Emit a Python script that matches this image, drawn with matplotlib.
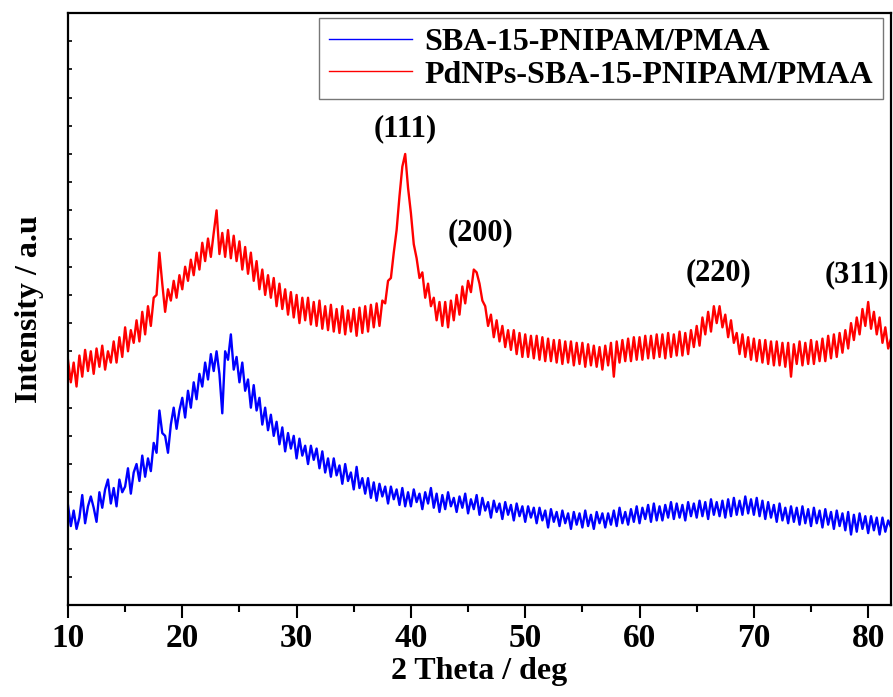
import numpy as np
import matplotlib.pyplot as plt
from matplotlib.ticker import MultipleLocator, NullFormatter

plt.rcParams['font.family'] = ['Liberation Serif', 'DejaVu Serif']
plt.rcParams['font.weight'] = 'bold'

# 2-theta scan, 0.25 deg step from 10 to 82
two_theta = np.arange(10, 82.001, 0.25)

# SBA-15-PNIPAM/PMAA (a.u.), four readings per degree
sba = [
    355, 280, 335, 270,  310, 390, 290, 350,  385, 345, 295, 400,  345, 410, 445, 360,   # 10-13
    415, 350, 445, 400,  420, 485, 395, 470,  500, 440, 530, 455,  520, 475, 575, 540,   # 14-17
    690, 610, 600, 540,  640, 700, 625, 690,  735, 665, 760, 700,  790, 730, 820, 775,   # 18-21
    860, 800, 890, 830,  900, 820, 680, 900,  870, 960, 835, 880,  790, 860, 760, 800,   # 22-25
    700, 780, 690, 735,  640, 700, 620, 675,  600, 650, 570, 630,  545, 610, 555, 600,   # 26-29
    520, 590, 530, 565,  500, 565, 515, 555,  485, 545, 470, 520,  455, 520, 460, 495,   # 30-33
    430, 500, 440, 470,  410, 490, 415, 450,  395, 450, 380, 435,  370, 430, 385, 420,   # 34-37
    360, 420, 375, 410,  355, 415, 350, 400,  350, 410, 365, 395,  340, 400, 360, 415,   # 38-41
    345, 395, 330, 390,  340, 400, 350, 380,  330, 385, 345, 395,  325, 375, 340, 390,   # 42-45
    320, 380, 335, 365,  310, 370, 330, 360,  305, 365, 320, 355,  300, 360, 315, 350,   # 46-49
    295, 350, 310, 345,  290, 345, 300, 335,  275, 340, 295, 330,  280, 335, 290, 325,   # 50-53
    270, 330, 285, 325,  275, 335, 280, 320,  270, 330, 290, 325,  275, 325, 285, 335,   # 54-57
    280, 345, 290, 330,  285, 340, 295, 350,  290, 345, 305, 355,  295, 360, 300, 350,   # 58-61
    300, 355, 310, 365,  305, 360, 310, 355,  300, 365, 315, 360,  310, 370, 315, 365,   # 62-65
    305, 375, 320, 365,  315, 370, 310, 375,  315, 380, 320, 370,  320, 385, 325, 375,   # 66-69
    320, 380, 315, 370,  305, 365, 310, 355,  295, 360, 300, 345,  290, 350, 295, 345,   # 70-73
    285, 350, 290, 340,  280, 345, 290, 335,  275, 340, 285, 330,  270, 335, 280, 325,   # 74-77
    265, 330, 250, 320,  260, 325, 270, 315,  255, 315, 265, 310,  250, 310, 260, 300,   # 78-81
    275,
]

# PdNPs-SBA-15-PNIPAM/PMAA (a.u.)
pd_sba = [
    870, 790, 860, 775,  885, 810, 905, 830,  900, 820, 910, 845,  920, 835, 900, 860,   # 10-13
    935, 860, 950, 880,  985, 900, 975, 930,  1010, 935, 1040, 960,  1060, 990, 1090, 1100,   # 14-17
    1250, 1140, 1040, 1120,  1080, 1150, 1090, 1170,  1120, 1200, 1150, 1225,  1170, 1250, 1190, 1285,   # 18-21
    1220, 1300, 1235, 1320,  1400, 1245, 1320, 1235,  1330, 1230, 1310, 1220,  1290, 1190, 1270, 1175,   # 22-25
    1250, 1150, 1220, 1120,  1190, 1100, 1170, 1090,  1160, 1060, 1140, 1050,  1120, 1030, 1110, 1020,   # 26-29
    1100, 1000, 1090, 1010,  1090, 995, 1075, 990,  1080, 980, 1060, 975,  1065, 970, 1050, 965,   # 30-33
    1060, 960, 1045, 970,  1050, 955, 1055, 965,  1060, 970, 1065, 985,  1070, 990, 1080, 1070,   # 34-37
    1150, 1160, 1250, 1330,  1450, 1555, 1600, 1480,  1390, 1280, 1230, 1160,  1180, 1090, 1140, 1060,   # 38-41
    1090, 1010, 1075, 990,  1075, 985, 1080, 1010,  1100, 1030, 1130, 1070,  1150, 1110, 1190, 1180,   # 42-45
    1140, 1080, 1060, 990,  1030, 950, 1010, 935,  990, 915, 975, 905,  975, 890, 965, 880,   # 46-49
    960, 880, 955, 875,  955, 870, 950, 865,  945, 865, 940, 860,  940, 855, 935, 860,   # 50-53
    935, 850, 930, 855,  930, 845, 925, 850,  920, 845, 915, 835,  920, 850, 930, 810,   # 54-57
    935, 860, 940, 865,  945, 865, 950, 870,  950, 870, 955, 875,  955, 875, 960, 880,   # 58-61
    960, 875, 965, 880,  960, 885, 970, 885,  965, 890, 975, 915,  990, 920, 1020, 960,   # 62-65
    1040, 970, 1060, 1000,  1060, 985, 1030, 950,  1010, 930, 965, 890,  960, 880, 950, 870,   # 66-69
    945, 865, 940, 860,  940, 855, 935, 850,  935, 850, 930, 845,  930, 810, 925, 855,   # 70-73
    935, 850, 930, 855,  940, 855, 935, 865,  945, 865, 955, 875,  960, 880, 965, 895,   # 74-77
    975, 910, 1000, 940,  1020, 960, 1050, 990,  1075, 980, 1040, 960,  1020, 930, 985, 910,   # 78-81
    945,
]

# Pd fcc reflections: label, position (deg), label height (a.u.)
peak_labels = ['(111)', '(200)', '(220)', '(311)']
peak_x = [39.5, 46.1, 66.9, 79.0]
peak_y = [1690, 1320, 1180, 1170]

fig = plt.figure(figsize=(8.93, 6.97), dpi=100)
ax = fig.add_axes([0.0761, 0.132, 0.9217, 0.8493])

ax.plot(two_theta, sba, color='#0000ff', lw=1.7, label='SBA-15-PNIPAM/PMAA')
ax.plot(two_theta, pd_sba, color='#ff0000', lw=1.7, label='PdNPs-SBA-15-PNIPAM/PMAA')

for lab, px, py in zip(peak_labels, peak_x, peak_y):
    ax.text(px, py, lab, ha='center', va='center', fontsize=22, fontweight='bold')

ax.set_xlim(10, 82)
ax.set_ylim(0, 2100)
ax.xaxis.set_major_locator(MultipleLocator(10))
ax.xaxis.set_minor_locator(MultipleLocator(5))
ax.yaxis.set_major_locator(MultipleLocator(100))
ax.yaxis.set_major_formatter(NullFormatter())
ax.tick_params(axis='x', which='major', direction='out', length=9, width=1.5, labelsize=24, pad=4)
ax.tick_params(axis='x', which='minor', direction='out', length=5, width=1.5)
ax.tick_params(axis='y', which='major', direction='in', length=3, width=1.2)
for sp in ax.spines.values():
    sp.set_linewidth(1.6)

ax.set_xlabel('2 Theta / deg', fontsize=23, fontweight='bold', labelpad=2)
ax.set_ylabel('Intensity / a.u', fontsize=23, fontweight='bold', labelpad=14)

leg = ax.legend(loc='upper right', bbox_to_anchor=(0.990, 0.9916), borderaxespad=0,
                fontsize=23, frameon=True, fancybox=False, handlelength=2.6,
                handletextpad=0.4, labelspacing=0.1, borderpad=0.3)
leg.get_frame().set_edgecolor('#555555')
leg.get_frame().set_linewidth(1.0)
for line in leg.get_lines():
    line.set_linewidth(1.0)

fig.savefig('out.png', dpi=100)
